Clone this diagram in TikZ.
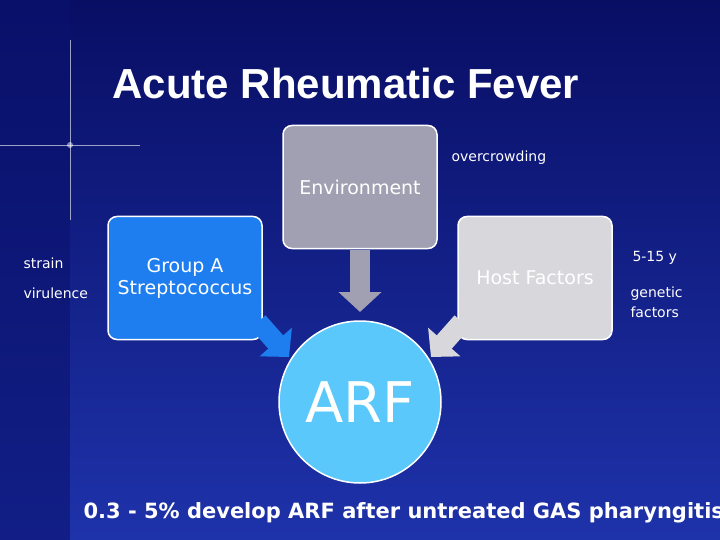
\documentclass[tikz,border=0pt]{standalone}
\usepackage{fontspec}
\setmainfont{DejaVu Sans}
\newfontfamily\titlefont{Liberation Sans}
\usetikzlibrary{arrows.meta}
\definecolor{bgtop}{RGB}{8,14,100}
\definecolor{bgbot}{RGB}{30,50,170}
\definecolor{bgleft}{RGB}{10,18,110}
\definecolor{envc}{RGB}{160,160,178}
\definecolor{gasc}{RGB}{30,126,240}
\definecolor{hostc}{RGB}{216,216,220}
\definecolor{arfc}{RGB}{90,200,250}
\begin{document}
\begin{tikzpicture}[x=1pt,y=-1pt,
  box/.style={draw=white,line width=1.5pt,rounded corners=9pt,minimum width=154pt,minimum height=123pt,align=center,text=white,font=\fontsize{19}{22}\selectfont},
  lab/.style={text=white,font=\fontsize{14}{20}\selectfont,align=left,anchor=west},
  blk/.style={line width=20pt,-{Triangle[width=42pt,length=20pt]}}]
\path[use as bounding box] (0,0) rectangle (720,540);
\begin{scope}
\clip (0,0) rectangle (720,540);
\fill[top color=bgtop,bottom color=bgbot] (0,0) rectangle (720,540);
\fill[bgleft,opacity=0.6] (0,0) rectangle (70,540);
\draw[white,opacity=0.6,line width=0.8pt] (0,145) -- (140,145);
\draw[white,opacity=0.6,line width=0.8pt] (70,40) -- (70,220);
\fill[white,opacity=0.5] (70,145) circle (3pt);
\node[text=white,font=\titlefont\bfseries\fontsize{42}{46}\selectfont] (title) at (346,83) {Acute Rheumatic Fever};
\node[box,fill=envc] (env) at (360,187) {Environment};
\node[box,fill=gasc] (gas) at (185,278) {Group A\\Streptococcus};
\node[box,fill=hostc] (host) at (535,278) {Host Factors};
\node[circle,draw=white,line width=1.5pt,fill=arfc,minimum size=162pt,text=white,font=\fontsize{56}{60}\selectfont] (arf) at (360,402) {ARF};
\coordinate (e1) at (360,250); \coordinate (e2) at (360,312);
\coordinate (g1) at (258,322); \coordinate (g2) at (289,357);
\coordinate (h1) at (462,322); \coordinate (h2) at (431,357);
\draw[blk,draw=envc,envc] (e1) -- (e2);
\draw[blk,draw=gasc,gasc] (g1) -- (g2);
\draw[blk,draw=hostc,hostc] (h1) -- (h2);
\node[lab] (oc) at (448,158) {overcrowding};
\node[lab] (st) at (20,263) {strain};
\node[lab] (vi) at (20,293) {virulence};
\node[lab] (ag) at (629,258) {5-15 y};
\node[lab] (ge) at (627,302) {genetic\\factors};
\node[anchor=west,text=white,font=\bfseries\fontsize{21}{24}\selectfont] (bot) at (80,513) {0.3 - 5\% develop ARF after untreated GAS pharyngitis};
\end{scope}
\end{tikzpicture}
\end{document}
